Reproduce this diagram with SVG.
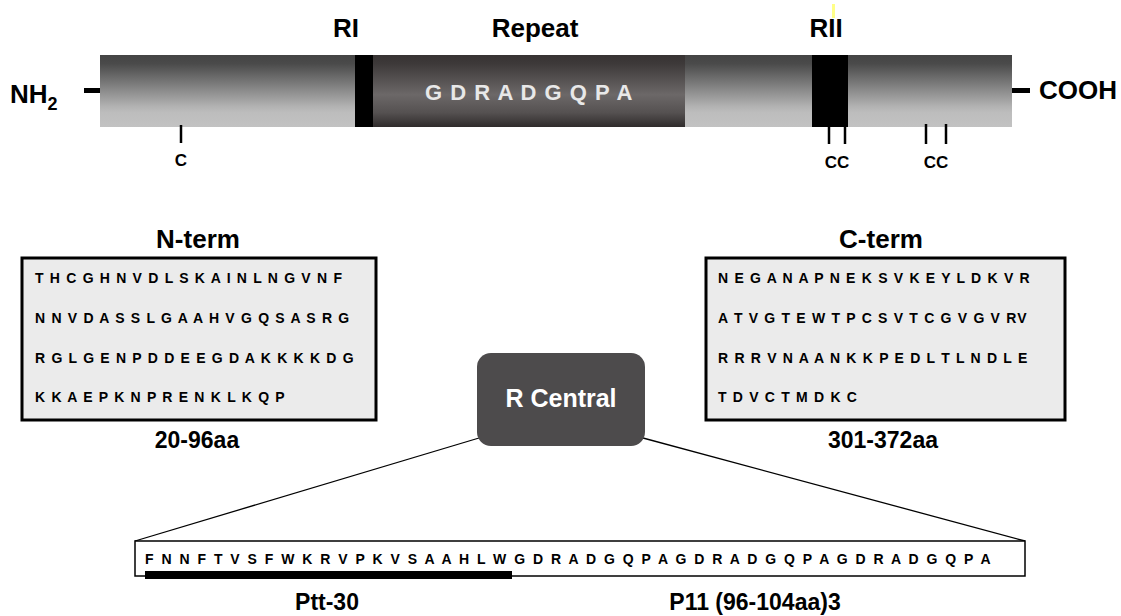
<svg xmlns="http://www.w3.org/2000/svg" width="1121" height="616" viewBox="0 0 1121 616">
<defs>
<linearGradient id="gSide" x1="0" y1="0" x2="0" y2="1">
<stop offset="0" stop-color="#444444"/>
<stop offset="0.12" stop-color="#4a4a4a"/>
<stop offset="0.72" stop-color="#b3b3b3"/>
<stop offset="0.8" stop-color="#bdbdbd"/>
<stop offset="1" stop-color="#c2c2c2"/>
</linearGradient>
<linearGradient id="gRep" x1="0" y1="0" x2="0" y2="1">
<stop offset="0" stop-color="#373333"/>
<stop offset="0.12" stop-color="#3d3939"/>
<stop offset="0.55" stop-color="#6c6868"/>
<stop offset="0.8" stop-color="#555151"/>
<stop offset="1" stop-color="#2f2b2b"/>
</linearGradient>
<style>
text{font-family:"Liberation Sans",Arial,sans-serif;font-weight:bold;fill:#000}
.lbl{font-size:26px}
.big{font-size:23px}
.seq{font-size:14px;letter-spacing:1.2px}
.seqb{font-size:14px;letter-spacing:2px}
.cl{font-size:17px}
.tick{stroke:#000;stroke-width:2.5}
.box{fill:#ebebeb;stroke:#000;stroke-width:3}
</style>
</defs>
<g id="protein">
<rect x="100" y="55" width="912" height="72" fill="url(#gSide)"/>
<rect x="373" y="55" width="312" height="72" fill="url(#gRep)"/>
<rect x="355" y="55" width="18" height="72" fill="#000"/>
<rect x="812" y="55" width="36" height="72" fill="#000"/>
<rect x="84" y="88" width="16" height="5" fill="#000"/>
<rect x="1012" y="88" width="18" height="5" fill="#000"/>
<text x="425" y="100" style="font-size:22px;letter-spacing:1px;fill:#e8e8e8">G D R A D G Q P A</text>
<rect x="832" y="4" width="3" height="14" fill="#ffff88"/>
</g>
<g id="labels-top">
<text class="lbl" x="346" y="37" text-anchor="middle">RI</text>
<text class="lbl" x="535" y="37" text-anchor="middle">Repeat</text>
<text class="lbl" x="826" y="37" text-anchor="middle">RII</text>
<text class="lbl" x="10" y="103">NH<tspan style="font-size:18px" dy="7">2</tspan></text>
<text class="lbl" x="1039" y="99">COOH</text>
</g>
<g id="cys">
<line class="tick" x1="181" y1="125" x2="181" y2="143"/>
<text class="cl" x="181" y="166" text-anchor="middle">C</text>
<line class="tick" x1="829" y1="127" x2="829" y2="144"/>
<line class="tick" x1="845" y1="127" x2="845" y2="144"/>
<text class="cl" x="837" y="168" text-anchor="middle">CC</text>
<line class="tick" x1="926" y1="124" x2="926" y2="144"/>
<line class="tick" x1="946" y1="124" x2="946" y2="144"/>
<text class="cl" x="936" y="168" text-anchor="middle">CC</text>
</g>
<g id="nterm">
<text class="lbl" x="198" y="248" text-anchor="middle">N-term</text>
<rect class="box" x="22" y="258" width="354" height="162"/>
<text class="seq" x="35" y="283">T H C G H N V D L S K A I N L N G V N F</text>
<text class="seq" x="35" y="323">N N V D A S S L G A A H V G Q S A S R G</text>
<text class="seq" x="35" y="363">R G L G E N P D D E E G D A K K K K D G</text>
<text class="seq" x="35" y="402">K K A E P K N P R E N K L K Q P</text>
<text class="big" x="197" y="448" text-anchor="middle">20-96aa</text>
</g>
<g id="cterm">
<text class="lbl" x="881" y="248" text-anchor="middle">C-term</text>
<rect class="box" x="706" y="258" width="359" height="162"/>
<text class="seq" x="718" y="283">N E G A N A P N E K S V K E Y L D K V R</text>
<text class="seq" x="718" y="323">A T V G T E W T P C S V T C G V G V RV</text>
<text class="seq" x="718" y="363">R R R V N A A N K K P E D L T L N D L E</text>
<text class="seq" x="718" y="402">T D V C T M D K C</text>
<text class="big" x="883" y="448" text-anchor="middle">301-372aa</text>
</g>
<g id="connectors">
<line x1="479" y1="438" x2="135" y2="541" stroke="#000" stroke-width="1.3"/>
<line x1="643" y1="438" x2="1025" y2="541" stroke="#000" stroke-width="1.3"/>
</g>
<g id="rcentral">
<rect x="477" y="353" width="168" height="93" rx="14" fill="#4d4b4c"/>
<text x="561" y="407" text-anchor="middle" style="font-size:25px;fill:#fff">R Central</text>
</g>
<g id="central-seq">
<rect x="135" y="541" width="890" height="35" fill="#fff" stroke="#000" stroke-width="1.5"/>
<text class="seqb" x="145" y="564">F N N F T V S F W K R V P K V S A A H L W G D R A D G Q P A G D R A D G Q P A G D R A D G Q P A</text>
<rect x="145" y="571" width="367" height="8" fill="#000"/>
<text class="big" x="327" y="610" text-anchor="middle">Ptt-30</text>
<text class="big" x="755" y="610" text-anchor="middle">P11 (96-104aa)3</text>
</g>
</svg>
